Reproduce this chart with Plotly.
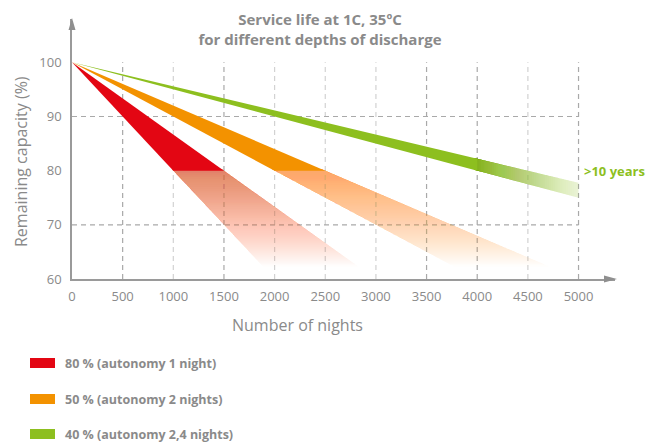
import plotly.graph_objects as go

# --- data -------------------------------------------------------------
depth_labels = ["80 % (autonomy 1 night)", "50 % (autonomy 2 nights)", "40 % (autonomy 2,4 nights)"]
# nights after which remaining capacity reaches 80 % (fast / slow edge of each band)
nights_to_80_fast = [1000, 2000, 4000]
nights_to_80_slow = [1500, 2500, 4500]
start_capacity = 100
end_of_life_capacity = 80
x_ticks = [0, 500, 1000, 1500, 2000, 2500, 3000, 3500, 4000, 4500, 5000]
y_ticks = [60, 70, 80, 90, 100]
lifetime_note = ">10 years"

# --- style ------------------------------------------------------------
solid_colors = ["#e30613", "#f39200", "#8dbf1f"]
fade_rgb = [(236, 112, 72), (246, 162, 72), (141, 191, 31)]
GREY = "#8a8a8a"
FONT = "Liberation Sans Narrow, Open Sans, sans-serif"
W, H = 668, 443
ML, MR, MT, MB = 72, 53, 19, 164
X_MAX, Y_MIN, Y_MAX = 5360, 60, 108


def px_x(p):
    return (p - ML) / (W - ML - MR)


def px_y(p):
    return (H - MB - p) / (H - MT - MB)


def edge_x(n80, y):
    # nights at which a straight fade line from 100 % hits capacity y
    return (start_capacity - y) / (start_capacity - end_of_life_capacity) * n80


def edge_y(n80, x):
    return start_capacity - (start_capacity - end_of_life_capacity) * x / n80


fig = go.Figure()


def poly(xs, ys, color):
    fig.add_trace(go.Scatter(x=xs + [xs[0]], y=ys + [ys[0]], mode="lines", fill="toself",
                             fillcolor=color, line=dict(width=0), hoverinfo="skip",
                             showlegend=False))


def layer_alphas(targets):
    # nested layers: layer j covers slices 0..j; solve per-layer alpha so the
    # composite opacity of slice j equals targets[j] (targets decreasing)
    out = []
    n = len(targets)
    for j in range(n):
        nxt = targets[j + 1] if j + 1 < n else 0.0
        out.append(1 - (1 - targets[j]) / (1 - nxt))
    return out


x_end = x_ticks[-1]
N = 48
for i in range(len(depth_labels)):
    fast, slow = nights_to_80_fast[i], nights_to_80_slow[i]
    r, g, b = fade_rgb[i]
    if i < 2:
        # faded continuation below 80 %, drawn as nested layers (no seams)
        y_top = end_of_life_capacity + 0.3
        y_stop = 62.3
        targets = [0.8 * (1 - (k + 0.5) / N) ** 0.85 for k in range(N)]
        for k, a in enumerate(layer_alphas(targets)):
            y2 = end_of_life_capacity - (end_of_life_capacity - y_stop) * (k + 1) / N
            poly([edge_x(fast, y_top), edge_x(slow, y_top), edge_x(slow, y2), edge_x(fast, y2)],
                 [y_top, y_top, y2, y2], f"rgba({r},{g},{b},{a:.4f})")
        # solid part down to end-of-life capacity
        poly([0, slow, fast], [start_capacity, end_of_life_capacity, end_of_life_capacity], solid_colors[i])
    else:
        # fade along the x direction from where the fast edge reaches 80 %
        xa0 = fast
        xs0 = xa0 - 30
        targets = [1.0 - 0.82 * ((k + 0.5) / N) ** 0.85 for k in range(N)]
        targets[0] = min(targets[0], 0.999)
        for k, a in enumerate(layer_alphas(targets)):
            xb = xa0 + (x_end - xa0) * (k + 1) / N
            poly([xs0, xs0, xb, xb], [edge_y(fast, xs0), edge_y(slow, xs0), edge_y(slow, xb), edge_y(fast, xb)],
                 f"rgba({r},{g},{b},{a:.4f})")
        poly([0, xa0, xa0], [start_capacity, edge_y(slow, xa0), edge_y(fast, xa0)], solid_colors[i])

shapes = []
# dashed grid
strong = {500, 1500, 3500, 4000, 5000}
for xv in x_ticks[1:]:
    shapes.append(dict(type="line", xref="x", yref="y", x0=xv, x1=xv, y0=Y_MIN, y1=start_capacity,
                       line=dict(color="#a9a9a9" if xv in strong else "#d2d2d2", width=1.2, dash="5px,4px"),
                       layer="below"))
for yv in (70, 90):
    shapes.append(dict(type="line", xref="x", yref="y", x0=0, x1=x_end, y0=yv, y1=yv,
                       line=dict(color="#a9a9a9", width=1.2, dash="5px,4px"), layer="below"))
# axis arrowheads
shapes.append(dict(type="path", xref="paper", yref="paper", fillcolor="#8f8f8f", line=dict(width=0),
                   path=f"M {px_x(68.5)},{px_y(30)} L {px_x(72)},{px_y(18)} L {px_x(75.5)},{px_y(30)} Z"))
shapes.append(dict(type="path", xref="paper", yref="paper", fillcolor="#8f8f8f", line=dict(width=0),
                   path=f"M {px_x(604)},{px_y(275.5)} L {px_x(617)},{px_y(279)} L {px_x(604)},{px_y(282.5)} Z"))

annotations = []
# legend
for i, lab in enumerate(depth_labels):
    cy = [363, 399, 434][i]
    shapes.append(dict(type="rect", xref="paper", yref="paper", x0=px_x(30), x1=px_x(55),
                       y0=px_y(cy - 5), y1=px_y(cy + 5), fillcolor=solid_colors[i], line=dict(width=0)))
    annotations.append(dict(xref="paper", yref="paper", x=px_x(63), y=px_y(cy), text=f"<b>{lab}</b>",
                            showarrow=False, xanchor="left", yanchor="middle",
                            font=dict(family=FONT, size=12.5, color=GREY)))

annotations.append(dict(xref="x", yref="y", x=5035, y=80.0, text=f"<b>{lifetime_note}</b>", showarrow=False,
                        xanchor="left", yanchor="middle", font=dict(family=FONT, size=13, color="#8dbf1f")))
annotations.append(dict(xref="paper", yref="paper", x=px_x(21), y=px_y(162), text="Remaining capacity (%)",
                        textangle=-90, showarrow=False, xanchor="center", yanchor="middle",
                        font=dict(family=FONT, size=16, color=GREY)))
annotations.append(dict(xref="paper", yref="paper", x=px_x(297), y=px_y(325), text="Number of nights",
                        showarrow=False, xanchor="center", yanchor="middle",
                        font=dict(family=FONT, size=16, color=GREY)))

fig.update_layout(
    width=W, height=H, margin=dict(l=ML, r=MR, t=MT, b=MB),
    paper_bgcolor="white", plot_bgcolor="white",
    title=dict(text="<b>Service life at 1C, 35ºC<br>for different depths of discharge</b>",
               x=320 / W, xanchor="center", y=1 - 25 / H, yanchor="middle",
               font=dict(family=FONT, size=15, color=GREY)),
    xaxis=dict(range=[0, X_MAX], tickvals=x_ticks, showgrid=False, zeroline=False,
               showline=True, linecolor="#9a9a9a", linewidth=1.5, ticks="outside", ticklen=5,
               tickcolor="rgba(0,0,0,0)", tickfont=dict(family=FONT, size=13, color=GREY)),
    yaxis=dict(range=[Y_MIN, Y_MAX], tickvals=y_ticks, showgrid=False, zeroline=False,
               showline=True, linecolor="#9a9a9a", linewidth=1.5, ticks="outside", ticklen=6,
               tickcolor="rgba(0,0,0,0)", tickfont=dict(family=FONT, size=13, color=GREY)),
    shapes=shapes, annotations=annotations,
)

fig.write_html("out.html")
